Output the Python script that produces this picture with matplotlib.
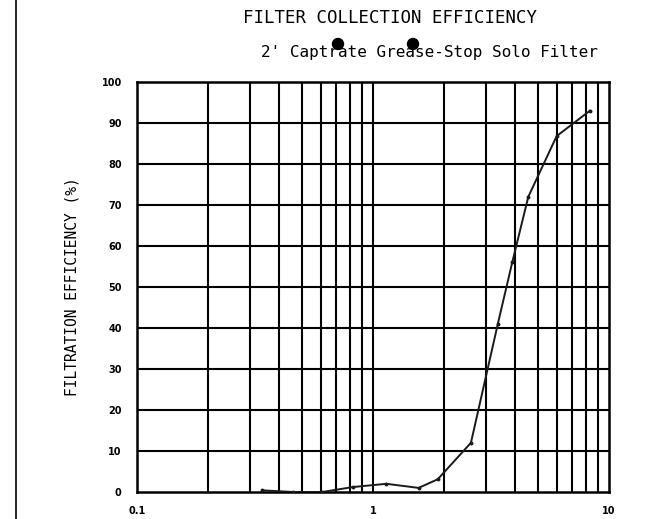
import matplotlib
matplotlib.use("Agg")
import matplotlib.pyplot as plt
import numpy as np
from matplotlib.lines import Line2D
from matplotlib.patches import Ellipse

# Dados (tamanho de partícula x eficiência)
tamanho = [0.34, 0.46, 0.61, 0.82, 1.14, 1.56, 1.88, 2.60, 3.38, 3.89, 4.55, 6.0, 8.3]
eficiencia = [0.4, 0.0, 0.0, 1.2, 2.0, 1.0, 3.1, 12.0, 41.0, 56.0, 72.0, 86.8, 93.0]

y_ticks = [0, 10, 20, 30, 40, 50, 60, 70, 80, 90, 100]
x_ticks = [0.1, 1, 10]
x_tick_labels = ["0.1", "1", "10"]

titulo = "FILTER COLLECTION EFFICIENCY"
subtitulo = "2' Captrate Grease-Stop Solo Filter"
rotulo_y = "FILTRATION EFFICIENCY (%)"

fig = plt.figure(figsize=(6.7, 5.19), dpi=100)
ax = fig.add_axes([137 / 670, 1 - 492 / 519, 472 / 670, 410 / 519])

ax.set_xscale("log")
ax.set_xlim(0.1, 10)
ax.set_ylim(0, 100)

# grade logarítmica feita à mão (linhas pretas)
grade_x = [m * d for d in (0.1, 1) for m in range(2, 10)] + [1]
for gx in grade_x:
    ax.axvline(gx, color="black", lw=1.5, zorder=1)
for gy in y_ticks[1:-1]:
    ax.axhline(gy, color="black", lw=1.5, zorder=1)

ax.plot(tamanho, eficiencia, color="#1a1a1a", lw=1.4, marker="o", ms=1.8, zorder=3)

ax.set_yticks(y_ticks)
ax.set_yticklabels([str(v) for v in y_ticks], fontsize=7, fontweight="bold",
                   family="Liberation Sans Narrow")
ax.set_xticks(x_ticks)
ax.set_xticklabels(x_tick_labels, fontsize=7, fontweight="bold",
                   family="Liberation Sans Narrow")
ax.minorticks_off()
ax.tick_params(length=0, pad=11)
ax.tick_params(axis="x", pad=10)
for s in ax.spines.values():
    s.set_linewidth(1.8)

fig.text(72 / 670, 1 - 287 / 519, rotulo_y, rotation=90, ha="center", va="center",
         fontsize=10.5, family="DejaVu Sans Mono")
fig.text(390 / 670, 1 - 18 / 519, titulo, ha="center", va="center",
         fontsize=12.5, family="DejaVu Sans Mono")
fig.text(429 / 670, 1 - 52 / 519, subtitulo, ha="center", va="center",
         fontsize=11.5, family="DejaVu Sans Mono")

# pontos pretos sobre o subtítulo
for px in (338, 413):
    fig.add_artist(Ellipse((px / 670, 1 - 44 / 519), 11 / 670, 11 / 519,
                           transform=fig.transFigure, color="black"))

# linha vertical da borda esquerda
fig.add_artist(Line2D([16 / 670, 16 / 670], [0, 1], color="black", lw=1.2,
                      transform=fig.transFigure))

plt.savefig("out.png", dpi=100)
plt.close()
